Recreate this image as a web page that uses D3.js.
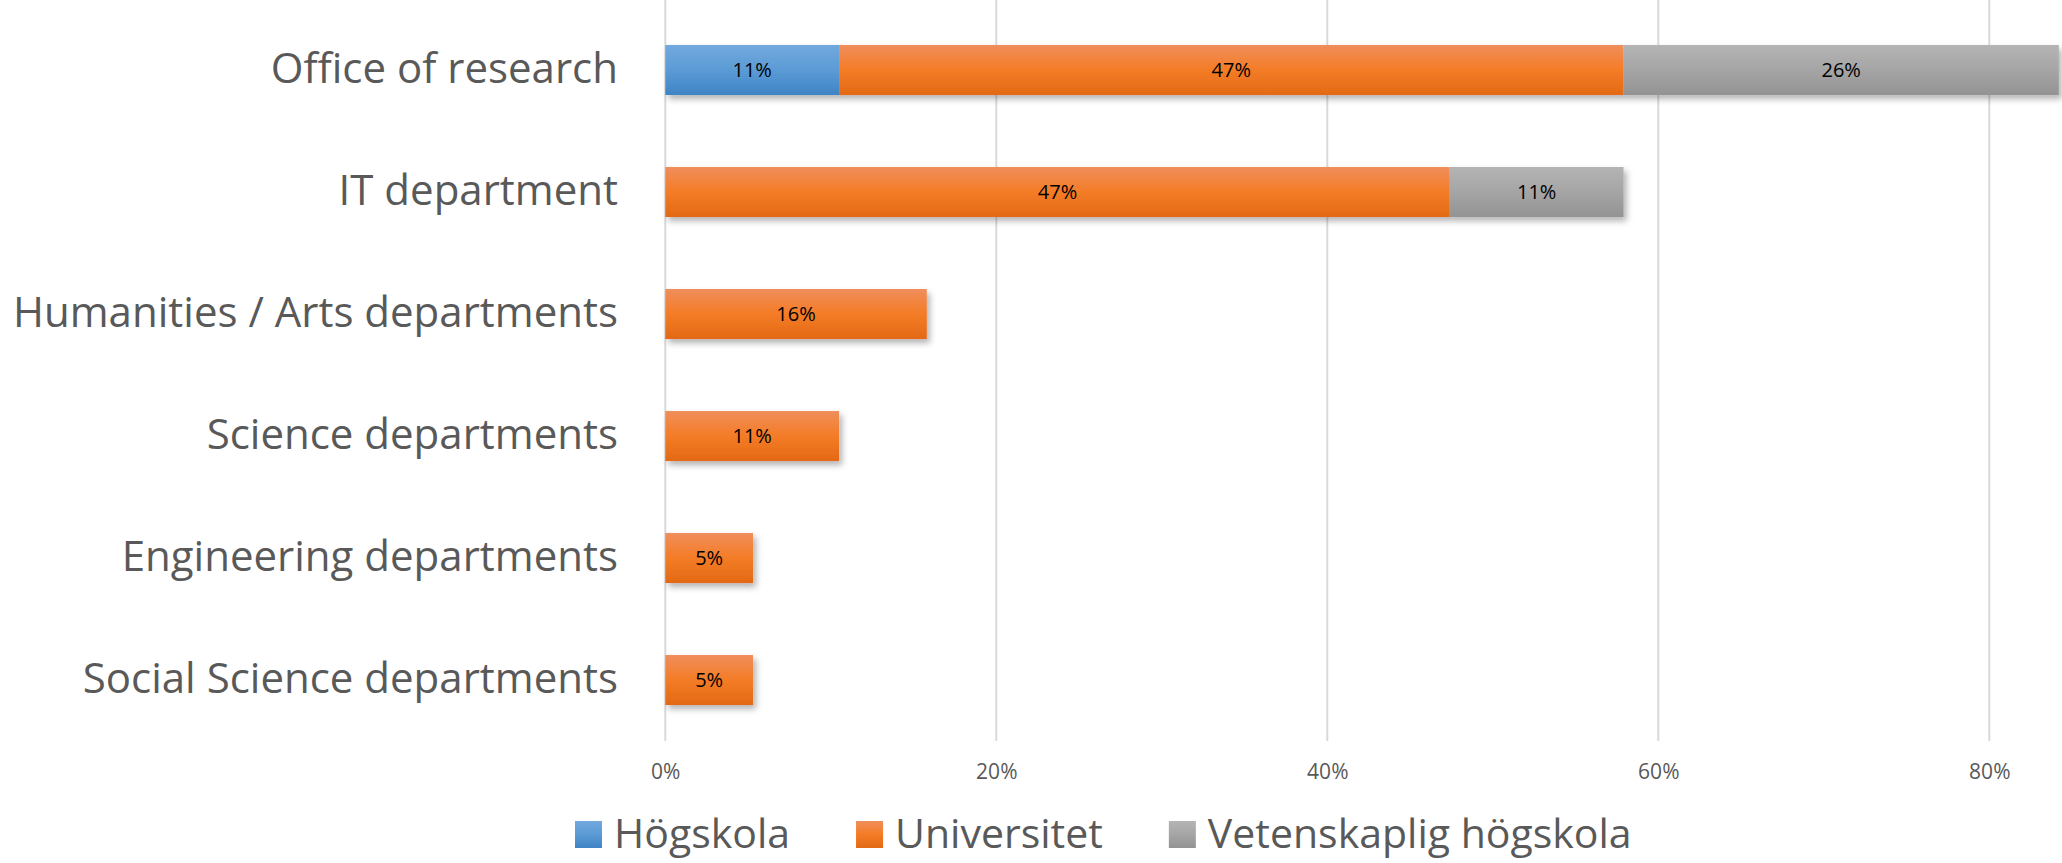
<!DOCTYPE html>
<html>
<head>
<meta charset="utf-8">
<script src="https://cdn.jsdelivr.net/npm/d3@7"></script>
<style>
  body { margin: 0; background: #fff; }
  svg { display: block; font-family: "Open Sans", sans-serif; }
</style>
</head>
<body>
<svg id="chart" width="2062" height="863"></svg>
<script>
// data (percent of answers, n = 19)
const categories = ["Office of research", "IT department", "Humanities / Arts departments",
  "Science departments", "Engineering departments", "Social Science departments"]
const hogskola = [10.5, 0, 0, 0, 0, 0]
const universitet = [47.4, 47.4, 15.8, 10.5, 5.3, 5.3]
const vetenskaplig = [26.3, 10.5, 0, 0, 0, 0]
const seriesNames = ["Högskola", "Universitet", "Vetenskaplig högskola"]
const tickValues = [0, 20, 40, 60, 80]

// table for d3.stack
const rows = categories.map((c, i) => ({
  cat: c,
  "Högskola": hogskola[i],
  "Universitet": universitet[i],
  "Vetenskaplig högskola": vetenskaplig[i]
}))

const svg = d3.select("#chart")

// scales
const x = d3.scaleLinear().domain([0, 80]).range([665.3, 1989.3])
const y = d3.scaleBand().domain(categories).range([9, 741]).paddingInner(0.59).paddingOuter(0.295)

// gradients, Excel style: light top, darker bottom
const grads = [
  ["g0", "#72a9de", "#5b9bd5", "#3f84c6"],
  ["g1", "#f08e5c", "#f47c26", "#e36915"],
  ["g2", "#b4b4b4", "#a5a5a5", "#939393"]
]
const defs = svg.append("defs")
grads.forEach(g => {
  const lg = defs.append("linearGradient").attr("id", g[0])
    .attr("x1", 0).attr("y1", 0).attr("x2", 0).attr("y2", 1)
  lg.append("stop").attr("offset", "0%").attr("stop-color", g[1])
  lg.append("stop").attr("offset", "50%").attr("stop-color", g[2])
  lg.append("stop").attr("offset", "100%").attr("stop-color", g[3])
})
defs.append("filter").attr("id", "shadow")
  .attr("x", "-5%").attr("y", "-20%").attr("width", "110%").attr("height", "160%")
  .append("feDropShadow")
  .attr("dx", 3).attr("dy", 4).attr("stdDeviation", 3)
  .attr("flood-color", "#000").attr("flood-opacity", 0.3)

const color = d3.scaleOrdinal().domain(seriesNames).range(["url(#g0)", "url(#g1)", "url(#g2)"])

// gridlines
svg.append("g")
  .selectAll("line")
  .data(tickValues)
  .join("line")
  .attr("x1", d => x(d)).attr("x2", d => x(d))
  .attr("y1", 0).attr("y2", 741)
  .attr("stroke", "#d9d9d9").attr("stroke-width", 2)

// x axis tick labels
const xAxis = svg.append("g")
  .attr("transform", "translate(0,764)")
  .call(d3.axisBottom(x).tickValues(tickValues).tickFormat(d => d + "%").tickSize(0).tickPadding(0))
xAxis.select(".domain").remove()
xAxis.selectAll("text")
  .attr("font-size", 21).attr("fill", "#595959")
  .attr("font-family", "Open Sans")

// y axis labels
const yAxis = svg.append("g")
  .attr("transform", "translate(665,0)")
  .call(d3.axisLeft(y).tickSize(0).tickPadding(47))
yAxis.select(".domain").remove()
yAxis.selectAll("text")
  .attr("font-size", 42).attr("fill", "#595959")
  .attr("font-family", "Open Sans")

// stacked bars
const stacked = d3.stack().keys(seriesNames)(rows)

const barGroup = svg.append("g").attr("filter", "url(#shadow)")
barGroup.selectAll("g")
  .data(stacked)
  .join("g")
  .attr("fill", d => color(d.key))
  .selectAll("rect")
  .data(d => d.filter(p => p[1] - p[0] > 0))
  .join("rect")
  .attr("x", d => x(d[0]))
  .attr("y", d => y(d.data.cat))
  .attr("width", d => x(d[1]) - x(d[0]))
  .attr("height", y.bandwidth())

// data labels
svg.append("g")
  .selectAll("g")
  .data(stacked)
  .join("g")
  .selectAll("text")
  .data(d => d.filter(p => p[1] - p[0] > 0))
  .join("text")
  .attr("x", d => (x(d[0]) + x(d[1])) / 2)
  .attr("y", d => y(d.data.cat) + y.bandwidth() / 2)
  .attr("dy", "0.35em")
  .attr("text-anchor", "middle")
  .attr("font-size", 20)
  .attr("fill", "#000")
  .text(d => Math.round(d[1] - d[0]) + "%")

// legend
const legend = svg.append("g").attr("transform", "translate(575,0)")
let lx = 0
seriesNames.forEach(name => {
  const item = legend.append("g").attr("transform", `translate(${lx},0)`)
  item.append("rect")
    .attr("x", 0).attr("y", 821).attr("width", 27).attr("height", 27)
    .attr("fill", color(name))
  const t = item.append("text")
    .attr("x", 39).attr("y", 834).attr("dy", "0.35em")
    .attr("font-size", 41).attr("fill", "#595959")
    .text(name)
  lx += 39 + t.node().getComputedTextLength() + 66
})
</script>
</body>
</html>
